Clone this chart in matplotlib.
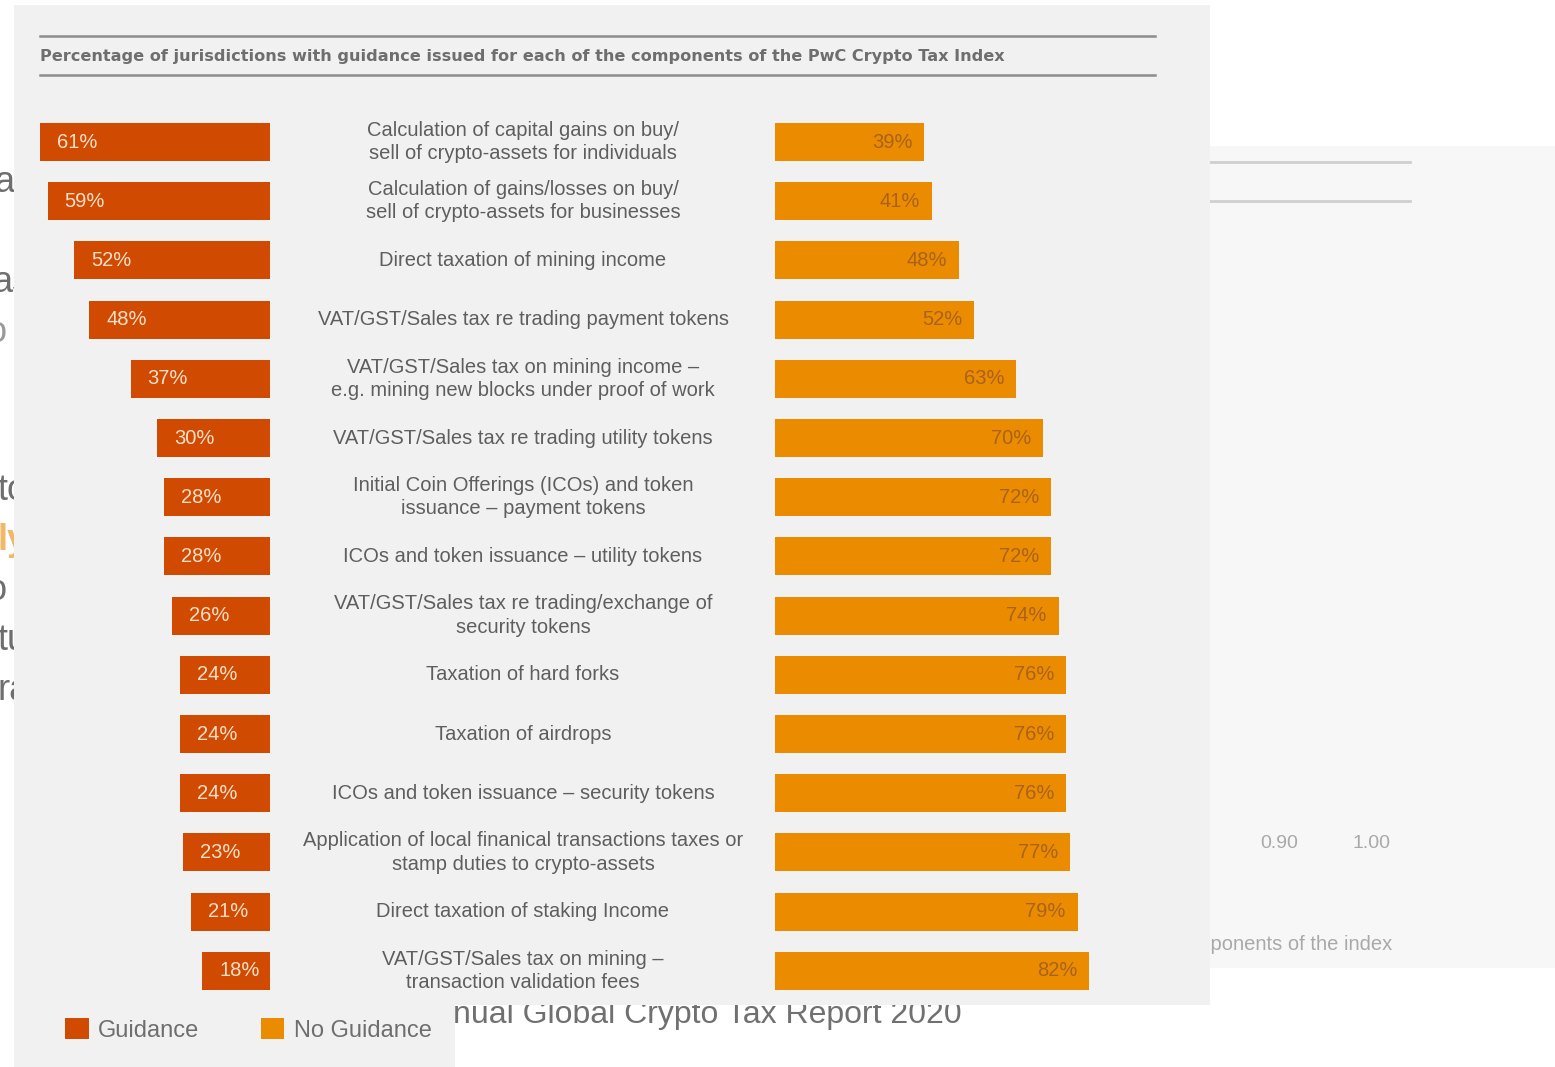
import matplotlib
matplotlib.use("Agg")
import matplotlib.pyplot as plt
from matplotlib.patches import Rectangle, Patch

# ---------------- data ----------------
components = [
    "Calculation of capital gains on buy/\nsell of crypto-assets for individuals",
    "Calculation of gains/losses on buy/\nsell of crypto-assets for businesses",
    "Direct taxation of mining income",
    "VAT/GST/Sales tax re trading payment tokens",
    "VAT/GST/Sales tax on mining income –\ne.g. mining new blocks under proof of work",
    "VAT/GST/Sales tax re trading utility tokens",
    "Initial Coin Offerings (ICOs) and token\nissuance – payment tokens",
    "ICOs and token issuance – utility tokens",
    "VAT/GST/Sales tax re trading/exchange of\nsecurity tokens",
    "Taxation of hard forks",
    "Taxation of airdrops",
    "ICOs and token issuance – security tokens",
    "Application of local finanical transactions taxes or\nstamp duties to crypto-assets",
    "Direct taxation of staking Income",
    "VAT/GST/Sales tax on mining –\ntransaction validation fees",
]
guidance = [61, 59, 52, 48, 37, 30, 28, 28, 26, 24, 24, 24, 23, 21, 18]
no_guidance = [39, 41, 48, 52, 63, 70, 72, 72, 74, 76, 76, 76, 77, 79, 82]
title = ("Percentage of jurisdictions with guidance issued for each of the "
         "components of the PwC Crypto Tax Index")
legend_labels = ["Guidance", "No Guidance"]

C_GUID = "#d04a02"
C_NOGUID = "#eb8c00"
PANEL = "#f1f1f2"

W, H = 1555, 1067
fig = plt.figure(figsize=(W / 100, H / 100), dpi=100)
fig.patch.set_facecolor("white")

# background axes in pixel coordinates
bg = fig.add_axes([0, 0, 1, 1], zorder=0)
bg.set_xlim(0, W)
bg.set_ylim(H, 0)
bg.axis("off")

# --- stuff behind the main panel (partially hidden page content) ---
bg.add_patch(Rectangle((1205, 146), 350, 822, facecolor="#f7f7f7",
                       edgecolor="none", zorder=1))
for yy in (162, 201):
    bg.plot([1205, 1410], [yy, yy], color="#cfcfcf", lw=2, zorder=2)
bg.text(1279, 843, "0.90", fontsize=14, color="#a9a9a9", ha="center",
        va="center", family="Liberation Sans", zorder=2)
bg.text(1372, 843, "1.00", fontsize=14, color="#a9a9a9", ha="center",
        va="center", family="Liberation Sans", zorder=2)
bg.text(1392, 945, "Components of the index", fontsize=14.5, color="#a9a9a9",
        ha="right", va="center", family="Liberation Sans", zorder=2)
bg.text(453, 1015, "nual Global Crypto Tax Report 2020",
        fontsize=23, color="#707070", ha="left", va="center",
        family="Liberation Sans", zorder=2)
frags = [("a", -5, 183, "#6e6e6e", "normal"),
         ("as", -7, 283, "#6e6e6e", "normal"),
         ("o", -13, 333, "#9a9a9a", "normal"),
         ("to", -2, 490, "#6e6e6e", "normal"),
         ("ly", -2, 540, "#f0b868", "bold"),
         ("o", -13, 590, "#6e6e6e", "normal"),
         ("tu", -2, 640, "#6e6e6e", "normal"),
         ("ra", -2, 690, "#6e6e6e", "normal")]
for s, x, y, c, w in frags:
    bg.text(x, y, s, fontsize=26, color=c, ha="left", va="center",
            family="Liberation Sans", weight=w, zorder=2)

# --- main panel ---
bg.add_patch(Rectangle((14, 5), 1196, 1000, facecolor=PANEL,
                       edgecolor="none", zorder=5))
bg.add_patch(Rectangle((14, 1004), 441, 63, facecolor=PANEL,
                       edgecolor="none", zorder=5))
for yy in (36, 75):
    bg.plot([40, 1155], [yy, yy], color="#8c8c8c", lw=1.8, zorder=6)
bg.text(40, 57, title, fontsize=11.6, weight="bold", color="#6e6e6e",
        ha="left", va="center", family="DejaVu Sans", zorder=6)

# --- bar axes ---
def fig_rect(x0, x1, y0, y1):
    return [x0 / W, 1 - y1 / H, (x1 - x0) / W, (y1 - y0) / H]

ROW0, ROWSTEP = 142, 59.2
TOP, BOT = 100, 1000
ylim = ((BOT - ROW0) / ROWSTEP, (TOP - ROW0) / ROWSTEP)
BAR_H = 38 / ROWSTEP
rows = list(range(len(components)))

axl = fig.add_axes(fig_rect(20, 270, TOP, BOT), zorder=3)
axr = fig.add_axes(fig_rect(774.5, 1160, TOP, BOT), zorder=3)
PX_L, PX_R = 3.77, 3.84
axl.set_xlim(250 / PX_L, 0)
axr.set_xlim(0, 385.5 / PX_R)
for ax in (axl, axr):
    ax.set_ylim(*ylim)
    ax.patch.set_alpha(0)
    ax.axis("off")

axl.barh(rows, guidance, height=BAR_H, color=C_GUID, edgecolor="none")
axr.barh(rows, no_guidance, height=BAR_H, color=C_NOGUID, edgecolor="none")

for i, v in enumerate(guidance):
    axl.annotate(f"{v}%", xy=(v, i), xytext=(17, 0), textcoords="offset pixels",
                 ha="left", va="center", fontsize=14.5, color="#fbe0c8",
                 family="Liberation Sans")
for i, v in enumerate(no_guidance):
    axr.annotate(f"{v}%", xy=(v, i), xytext=(-12, 0), textcoords="offset pixels",
                 ha="right", va="center", fontsize=14.5, color="#a9621c",
                 family="Liberation Sans")

cx = (523 - 774.5) / 385.5
for i, lab in enumerate(components):
    axr.text(cx, i, lab, transform=axr.get_yaxis_transform(), ha="center",
             va="center", multialignment="center", fontsize=14.5,
             color="#5e5e5e", family="Liberation Sans", linespacing=1.3,
             clip_on=False)

# --- legend ---
handles = [Patch(facecolor=C_GUID, edgecolor="none"),
           Patch(facecolor=C_NOGUID, edgecolor="none")]
leg = bg.legend(handles, legend_labels, ncol=2, frameon=False,
                handlelength=1.0, handleheight=1.0, handletextpad=0.4,
                columnspacing=2.6, borderpad=0, borderaxespad=0,
                loc="center left",
                bbox_to_anchor=(65 / W, 1 - 1030 / H),
                bbox_transform=fig.transFigure,
                prop={"family": "Liberation Sans", "size": 17})
for t in leg.get_texts():
    t.set_color("#6e6e6e")
leg.set_zorder(10)

fig.savefig("out.png", dpi=100, facecolor="white")
